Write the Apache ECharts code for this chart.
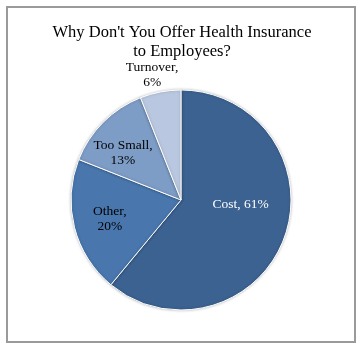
<!DOCTYPE html>
<html>
<head>
<meta charset="utf-8">
<script src="https://cdn.jsdelivr.net/npm/echarts@6/dist/echarts.min.js"></script>
<style>
	html, body { margin: 0; padding: 0; background: #fff; }
	#chart { width: 364px; height: 353px; }
</style>
</head>
<body>
<div id="chart"></div>
<script>
var categories = ['Cost', 'Other', 'Too Small', 'Turnover'];
var shares = [61, 20, 13, 6];

var sliceColors = ['#3c6291', '#4876ad', '#7d9cc6', '#b9c8e0'];
// shift of each label from the ECharts inside spot, to sit where Excel put it
var labelNudge = [[5, -15], [-15, 5], [-17, -6], [-18, -68]];

var seriesData = [];
for (var i = 0; i < categories.length; i++) {
	seriesData.push({
		name: categories[i],
		value: shares[i],
		itemStyle: { color: sliceColors[i] },
		label: { color: i == 0 ? '#fff' : '#000' }
	});
}

var myChart = echarts.init(document.getElementById('chart'));
var option = {
	animation: false,
	title: {
		text: "Why Don't You Offer Health Insurance\nto Employees?",
		left: 'center',
		top: 18,
		textStyle: {
			fontFamily: 'Liberation Serif',
			fontWeight: 'normal',
			fontSize: 16.5,
			lineHeight: 19,
			color: '#000'
		}
	},
	graphic: [{
		type: 'rect',
		shape: { x: 7, y: 7, width: 348, height: 335 },
		style: { fill: 'none', stroke: '#9a9a9a', lineWidth: 2 },
		silent: true
	}],
	series: [{
		type: 'pie',
		center: [181, 200],
		radius: [0, 110],
		startAngle: 90,
		clockwise: true,
		itemStyle: {
			borderColor: '#fff',
			borderWidth: 1,
			shadowBlur: 3,
			shadowColor: 'rgba(0,0,0,0.25)'
		},
		label: {
			show: true,
			position: 'inside',
			fontFamily: 'Liberation Serif',
			fontSize: 13.5,
			lineHeight: 15,
			formatter: function(p) {
				return p.dataIndex == 0 ? p.name + ', ' + p.value + '%' : p.name + ',\n' + p.value + '%';
			}
		},
		labelLayout: function(params) {
			var n = labelNudge[params.dataIndex];
			return { dx: n[0], dy: n[1] };
		},
		data: seriesData
	}]
};
myChart.setOption(option);
</script>
</body>
</html>
